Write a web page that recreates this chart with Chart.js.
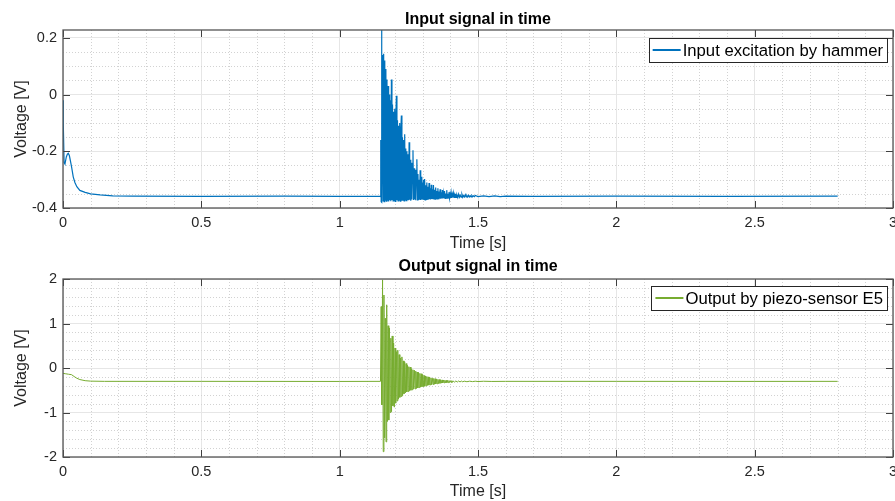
<!DOCTYPE html>
<html>
<head>
<meta charset="utf-8">
<script src="https://cdn.jsdelivr.net/npm/chart.js@4.4.1/dist/chart.umd.min.js"></script>
<style>
  html, body { margin: 0; padding: 0; background: #fff; }
  #wrap { position: relative; width: 895px; height: 501px; }
  canvas { position: absolute; left: 0; }
</style>
</head>
<body>
<div id="wrap">
  <canvas id="inputChart" width="895" height="255" style="top:0"></canvas>
  <canvas id="outputChart" width="895" height="246" style="top:255px"></canvas>
</div>
<script>
const FONT = '"Liberation Sans", Arial, Helvetica, sans-serif';

// ticks
const xTicks = [0, 0.5, 1, 1.5, 2, 2.5, 3];
const inputYTicks = [-0.4, -0.2, 0, 0.2];
const outputYTicks = [-2, -1, 0, 1, 2];

// input signal (hammer)
const inputTime = [
  0, 0.001, 0.004, 0.007, 0.012, 0.016, 0.019, 0.023, 0.027, 0.031, 0.037, 0.043, 0.05, 0.061, 0.08, 0.1, 0.134, 0.18, 0.25, 0.5, 0.8, 1.0, 1.146,
  1.148, 1.149, 1.150, 1.151, 1.153, 1.155, 1.157, 1.159, 1.161, 1.163, 1.165, 1.167, 1.169, 1.171, 1.173, 1.175, 1.177, 1.179, 1.181, 1.183,
  1.185, 1.187, 1.189, 1.191, 1.193, 1.195, 1.197, 1.199, 1.201, 1.203, 1.205, 1.207, 1.209, 1.211, 1.213, 1.215, 1.217, 1.219, 1.221, 1.223,
  1.225, 1.227, 1.229, 1.231, 1.233, 1.235, 1.237, 1.239, 1.241, 1.243, 1.245, 1.247, 1.249, 1.251, 1.253, 1.255, 1.257, 1.259, 1.261, 1.263,
  1.265, 1.267, 1.269, 1.271, 1.273, 1.275, 1.277, 1.279,
  1.281, 1.283, 1.285, 1.287, 1.289, 1.291, 1.293, 1.295, 1.297, 1.299,
  1.301, 1.303, 1.305, 1.307, 1.309, 1.311, 1.313, 1.315, 1.317, 1.319,
  1.321, 1.323, 1.325, 1.327, 1.329, 1.331, 1.333, 1.335, 1.337, 1.339,
  1.341, 1.343, 1.345, 1.347, 1.349, 1.351, 1.353, 1.355, 1.357, 1.359,
  1.361, 1.363, 1.365, 1.367, 1.369, 1.371, 1.373, 1.375, 1.377, 1.379,
  1.381, 1.383, 1.385, 1.387, 1.389, 1.391, 1.393, 1.395, 1.397, 1.399,
  1.401, 1.403, 1.405, 1.407, 1.409, 1.411, 1.413, 1.415, 1.417, 1.419,
  1.421,
  1.424, 1.427, 1.430, 1.433, 1.436, 1.439, 1.442, 1.445, 1.448, 1.451,
  1.454, 1.457, 1.460, 1.463, 1.466, 1.469, 1.472, 1.475, 1.478, 1.481,
  1.484, 1.487,
  1.49, 1.50, 1.52, 1.54, 1.56, 1.58, 1.60,
  1.7, 2.0, 2.4, 2.8
];
const inputVolt = [
  -0.02, -0.1, -0.24, -0.245, -0.22, -0.21, -0.207, -0.215, -0.235, -0.255, -0.29, -0.31, -0.325, -0.338, -0.345, -0.35, -0.354, -0.357, -0.358, -0.359, -0.358, -0.359, -0.359,
  -0.36, -0.16, -0.378, 0.228, -0.38, 0.14, -0.375, 0.144, -0.378, 0.12, -0.372, 0.09, -0.376, 0.053, -0.374, 0.03, -0.377, 0.0, -0.373, -0.02,
  -0.376, 0.053, -0.372, -0.035, -0.375, -0.06, -0.374, -0.05, -0.377, -0.08, -0.004, -0.373, -0.09, -0.375, -0.11, -0.372, -0.1, -0.376, -0.13, -0.074,
  -0.374, -0.15, -0.372, -0.16, -0.375, -0.14, -0.371, -0.19, -0.374, -0.2, -0.372, -0.21, -0.373, -0.168, -0.371, -0.23, -0.374, -0.24, -0.37, -0.25,
  -0.196, -0.372, -0.26, -0.37, -0.265, -0.373, -0.27, -0.228,
  -0.371, -0.28, -0.372, -0.30, -0.371, -0.267, -0.372, -0.29, -0.370, -0.31,
  -0.371, -0.30, -0.370, -0.298, -0.371, -0.32, -0.370, -0.31, -0.369, -0.325,
  -0.370, -0.312, -0.369, -0.33, -0.370, -0.318, -0.368, -0.334, -0.369, -0.319,
  -0.368, -0.336, -0.369, -0.328, -0.367, -0.34, -0.368, -0.33, -0.367, -0.342,
  -0.366, -0.334, -0.367, -0.345, -0.366, -0.337, -0.366, -0.347, -0.365, -0.34,
  -0.366, -0.349, -0.365, -0.337, -0.365, -0.35, -0.364, -0.344, -0.365, -0.351,
  -0.364, -0.346, -0.364, -0.352, -0.363, -0.348, -0.364, -0.353, -0.363, -0.35,
  -0.363,
  -0.354, -0.363, -0.351, -0.362, -0.355, -0.362, -0.352, -0.362, -0.356, -0.361,
  -0.353, -0.361, -0.356, -0.361, -0.355, -0.361, -0.357, -0.361, -0.356, -0.36,
  -0.357, -0.36,
  -0.356, -0.36, -0.357, -0.36, -0.357, -0.36, -0.358,
  -0.359, -0.358, -0.359, -0.358
];

// output signal (piezo E5)
const outputTime = [
  0, 0.01, 0.02, 0.031, 0.04, 0.05, 0.061, 0.08, 0.1, 0.15, 0.5, 1.0, 1.1475,
  1.15, 1.1525, 1.155, 1.1575, 1.16, 1.1625, 1.165, 1.1675, 1.17, 1.1725, 1.175, 1.1775, 1.18, 1.1825, 1.185, 1.1875, 1.19, 1.1925, 1.195, 1.1975,
  1.2, 1.2025, 1.205, 1.2075, 1.21, 1.2125, 1.215, 1.2175, 1.22, 1.2225, 1.225, 1.2275, 1.23, 1.2325, 1.235, 1.2375, 1.24, 1.2425, 1.245, 1.2475,
  1.25, 1.2525, 1.255, 1.2575, 1.26, 1.2625, 1.265, 1.2675, 1.27, 1.2725, 1.275, 1.2775, 1.28, 1.2825, 1.285, 1.2875, 1.29, 1.2925, 1.295, 1.2975,
  1.3, 1.3025, 1.305, 1.3075, 1.31, 1.3125, 1.315, 1.3175, 1.32, 1.3225,
  1.325, 1.3275, 1.33, 1.3325, 1.335, 1.3375, 1.34, 1.3425, 1.345, 1.3475,
  1.35, 1.3525, 1.355, 1.3575, 1.36, 1.3625, 1.365, 1.3675, 1.37, 1.3725,
  1.375, 1.3775, 1.38, 1.3825, 1.385, 1.3875, 1.39, 1.3925, 1.395, 1.3975,
  1.4, 1.4025, 1.405, 1.4075, 1.41, 1.415, 1.42, 1.425, 1.43, 1.435,
  1.44, 1.445, 1.45, 1.46, 1.47, 1.48, 1.49, 1.5, 1.52, 1.55,
  1.6, 2.0, 2.5, 2.8
];
const outputVolt = [
  -0.12, -0.13, -0.14, -0.15, -0.19, -0.23, -0.26, -0.285, -0.295, -0.3, -0.3, -0.302, -0.3,
  1.38, -0.83, 1.98, -1.88, 1.64, -1.57, 1.12, -1.66, 1.42, -1.2, 0.95, -1.17, 0.9, -1.0, 0.67, -0.98, 0.72, -0.85, 0.56, -0.88,
  0.45, -0.79, 0.37, -0.74, 0.4, -0.7, 0.3, -0.66, 0.22, -0.64, 0.25, -0.62, 0.16, -0.58, 0.14, -0.56, 0.1, -0.54, 0.06, -0.53,
  0.03, -0.51, 0.02, -0.5, -0.02, -0.49, -0.04, -0.47, -0.05, -0.47, -0.07, -0.46, -0.09, -0.45, -0.1, -0.44, -0.12, -0.43, -0.13, -0.42,
  -0.15, -0.42, -0.17, -0.41, -0.18, -0.40, -0.19, -0.39, -0.20, -0.385,
  -0.21, -0.38, -0.22, -0.375, -0.23, -0.37, -0.235, -0.365, -0.24, -0.36,
  -0.25, -0.355, -0.255, -0.35, -0.26, -0.345, -0.265, -0.34, -0.268, -0.337,
  -0.272, -0.334, -0.275, -0.332, -0.278, -0.33, -0.28, -0.328, -0.282, -0.326,
  -0.284, -0.324, -0.286, -0.322, -0.288, -0.32, -0.29, -0.316, -0.292, -0.313,
  -0.294, -0.311, -0.295, -0.308, -0.296, -0.306, -0.297, -0.304, -0.298, -0.302,
  -0.3, -0.3, -0.301, -0.3
];

function isMajor(v, list) {
  return list.some(t => Math.abs(t - v) < 1e-9);
}

// grid menor punteado, ticks hacia adentro, caja y leyenda estilo matlab
const matlabAxes = {
  id: 'matlabAxes',
  beforeDatasetsDraw(chart, args, opts) {
    const {ctx, chartArea: a, scales: {x, y}} = chart;
    ctx.save();
    ctx.strokeStyle = '#d2d2d2';
    ctx.lineWidth = 1;
    ctx.setLineDash([1, 2]);
    ctx.beginPath();
    for (let i = Math.ceil(x.min / opts.minorX - 1e-9); i * opts.minorX <= x.max + 1e-9; i++) {
      const v = i * opts.minorX;
      if (isMajor(v, xTicks)) continue;
      const px = Math.round(x.getPixelForValue(v)) + 0.5;
      ctx.moveTo(px, a.top);
      ctx.lineTo(px, a.bottom);
    }
    for (let i = Math.ceil(y.min / opts.minorY - 1e-9); i * opts.minorY <= y.max + 1e-9; i++) {
      const v = i * opts.minorY;
      if (isMajor(v, opts.yTicks)) continue;
      const py = Math.round(y.getPixelForValue(v)) + 0.5;
      ctx.moveTo(a.left, py);
      ctx.lineTo(a.right, py);
    }
    ctx.stroke();
    ctx.restore();
  },
  afterDatasetsDraw(chart, args, opts) {
    const {ctx, chartArea: a, scales: {x, y}} = chart;
    const tl = 7;
    ctx.save();
    ctx.strokeStyle = '#404040';
    ctx.lineWidth = 1;
    ctx.beginPath();
    xTicks.forEach(v => {
      const px = Math.round(x.getPixelForValue(v)) + 0.5;
      ctx.moveTo(px, a.bottom); ctx.lineTo(px, a.bottom - tl);
      ctx.moveTo(px, a.top); ctx.lineTo(px, a.top + tl);
    });
    opts.yTicks.forEach(v => {
      const py = Math.round(y.getPixelForValue(v)) + 0.5;
      ctx.moveTo(a.left, py); ctx.lineTo(a.left + tl, py);
      ctx.moveTo(a.right, py); ctx.lineTo(a.right - tl, py);
    });
    ctx.stroke();
    ctx.strokeStyle = '#555';
    ctx.lineWidth = 1.3;
    ctx.strokeRect(a.left, a.top, a.right - a.left, a.bottom - a.top);

    // leyenda
    const ds = chart.data.datasets[0];
    ctx.font = '16.7px ' + FONT;
    const tw = ctx.measureText(ds.label).width;
    const w = 4 + 28 + 2 + tw + 4;
    const h = 24;
    const right = a.right - 6;
    const top = a.top + opts.legendTop;
    ctx.fillStyle = '#fff';
    ctx.fillRect(right - w, top, w, h);
    ctx.strokeStyle = '#262626';
    ctx.lineWidth = 1;
    ctx.strokeRect(Math.round(right - w) + 0.5, top + 0.5, Math.round(w), h);
    ctx.strokeStyle = ds.borderColor;
    ctx.lineWidth = 2;
    ctx.beginPath();
    ctx.moveTo(right - w + 4, top + h / 2);
    ctx.lineTo(right - w + 32, top + h / 2);
    ctx.stroke();
    ctx.fillStyle = '#000';
    ctx.textBaseline = 'middle';
    ctx.textAlign = 'left';
    ctx.fillText(ds.label, right - w + 34, top + h / 2 + 1);
    ctx.restore();
  }
};

function makeChart(id, cfg) {
  const points = cfg.time.map((t, i) => ({x: t, y: cfg.volt[i]}));
  return new Chart(document.getElementById(id).getContext('2d'), {
    type: 'line',
    data: {
      datasets: [{
        label: cfg.label,
        data: points,
        borderColor: cfg.color,
        borderWidth: cfg.lineWidth,
        pointRadius: 0,
        tension: 0,
        fill: false
      }]
    },
    options: {
      responsive: false,
      animation: false,
      layout: { padding: { left: 0, right: 2, top: 0, bottom: 0 } },
      plugins: {
        legend: { display: false },
        tooltip: { enabled: false },
        title: {
          display: true,
          text: cfg.title,
          fullSize: false,
          color: '#000',
          font: { family: FONT, size: 16, weight: 'bold' },
          padding: cfg.titlePad
        },
        matlabAxes: { minorX: 0.1, minorY: cfg.minorY, yTicks: cfg.yTicks, legendTop: cfg.legendTop }
      },
      scales: {
        x: {
          type: 'linear',
          min: 0,
          max: 3,
          afterBuildTicks: axis => { axis.ticks = xTicks.map(v => ({value: v})); },
          afterFit: scale => {
            scale.height = cfg.xHeight;
            scale.paddingLeft = 0;
            scale.paddingRight = 0;
          },
          ticks: {
            color: '#262626',
            font: { family: FONT, size: 14.5 },
            padding: 6,
            maxRotation: 0,
            callback: v => String(v)
          },
          grid: { color: '#e6e6e6', drawTicks: false },
          border: { display: false },
          title: {
            display: true,
            text: 'Time [s]',
            color: '#262626',
            font: { family: FONT, size: 16 },
            padding: { top: 0, bottom: cfg.xTitlePad }
          }
        },
        y: {
          type: 'linear',
          min: cfg.yMin,
          max: cfg.yMax,
          afterBuildTicks: axis => { axis.ticks = cfg.yTicks.map(v => ({value: v})); },
          afterFit: scale => {
            scale.width = 63;
            scale.paddingTop = 0;
            scale.paddingBottom = 0;
          },
          ticks: {
            color: '#262626',
            font: { family: FONT, size: 14.5 },
            padding: 6,
            callback: v => String(v)
          },
          grid: { color: '#e6e6e6', drawTicks: false },
          border: { display: false },
          title: {
            display: true,
            text: 'Voltage [V]',
            color: '#262626',
            font: { family: FONT, size: 16 },
            padding: { top: 12.4, bottom: 0 }
          }
        }
      }
    },
    plugins: [matlabAxes]
  });
}

makeChart('inputChart', {
  time: inputTime, volt: inputVolt,
  label: 'Input excitation by hammer', color: '#0072BD', lineWidth: 1.2,
  title: 'Input signal in time', titlePad: { top: 10, bottom: 0.8 },
  yMin: -0.4, yMax: 0.228, yTicks: inputYTicks, minorY: 0.05,
  xHeight: 47, xTitlePad: 1.4, legendTop: 8
});

makeChart('outputChart', {
  time: outputTime, volt: outputVolt,
  label: 'Output by piezo-sensor E5', color: '#77AC30', lineWidth: 1,
  title: 'Output signal in time', titlePad: { top: 2.4, bottom: 2.4 },
  yMin: -2, yMax: 2, yTicks: outputYTicks, minorY: 0.2,
  xHeight: 44, xTitlePad: 0, legendTop: 7
});
</script>
</body>
</html>
